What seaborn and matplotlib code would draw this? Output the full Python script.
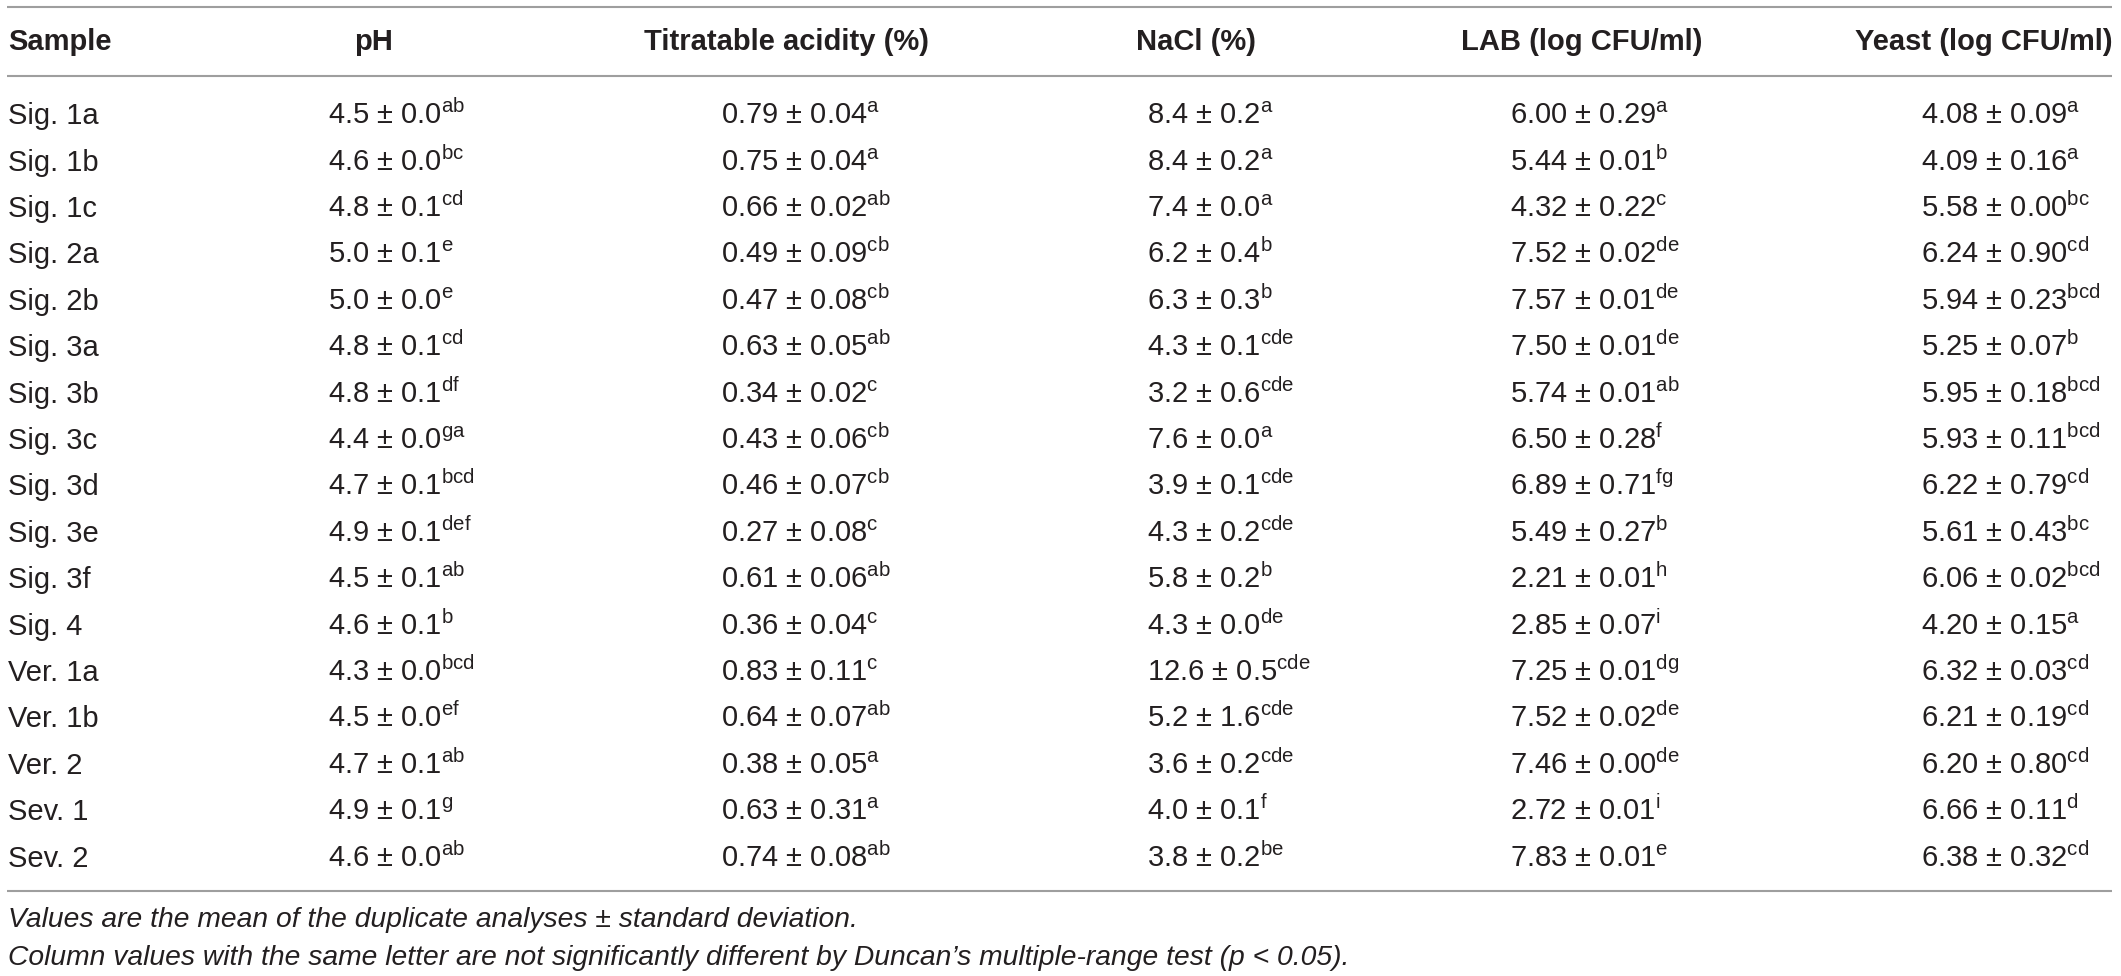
import matplotlib
matplotlib.use("Agg")
import matplotlib.pyplot as plt
import seaborn as sns

# table contents
samples = ["Sig. 1a", "Sig. 1b", "Sig. 1c", "Sig. 2a", "Sig. 2b", "Sig. 3a", "Sig. 3b",
           "Sig. 3c", "Sig. 3d", "Sig. 3e", "Sig. 3f", "Sig. 4", "Ver. 1a", "Ver. 1b",
           "Ver. 2", "Sev. 1", "Sev. 2"]
headers = ["Sample", "pH", "Titratable acidity (%)", "NaCl (%)", "LAB (log CFU/ml)", "Yeast (log CFU/ml)"]

ph_mean = [4.5, 4.6, 4.8, 5.0, 5.0, 4.8, 4.8, 4.4, 4.7, 4.9, 4.5, 4.6, 4.3, 4.5, 4.7, 4.9, 4.6]
ph_sd = [0.0, 0.0, 0.1, 0.1, 0.0, 0.1, 0.1, 0.0, 0.1, 0.1, 0.1, 0.1, 0.0, 0.0, 0.1, 0.1, 0.0]
ph_grp = ["ab", "bc", "cd", "e", "e", "cd", "df", "ga", "bcd", "def", "ab", "b", "bcd", "ef", "ab", "g", "ab"]

ta_mean = [0.79, 0.75, 0.66, 0.49, 0.47, 0.63, 0.34, 0.43, 0.46, 0.27, 0.61, 0.36, 0.83, 0.64, 0.38, 0.63, 0.74]
ta_sd = [0.04, 0.04, 0.02, 0.09, 0.08, 0.05, 0.02, 0.06, 0.07, 0.08, 0.06, 0.04, 0.11, 0.07, 0.05, 0.31, 0.08]
ta_grp = ["a", "a", "ab", "cb", "cb", "ab", "c", "cb", "cb", "c", "ab", "c", "c", "ab", "a", "a", "ab"]

nacl_mean = [8.4, 8.4, 7.4, 6.2, 6.3, 4.3, 3.2, 7.6, 3.9, 4.3, 5.8, 4.3, 12.6, 5.2, 3.6, 4.0, 3.8]
nacl_sd = [0.2, 0.2, 0.0, 0.4, 0.3, 0.1, 0.6, 0.0, 0.1, 0.2, 0.2, 0.0, 0.5, 1.6, 0.2, 0.1, 0.2]
nacl_grp = ["a", "a", "a", "b", "b", "cde", "cde", "a", "cde", "cde", "b", "de", "cde", "cde", "cde", "f", "be"]

lab_mean = [6.00, 5.44, 4.32, 7.52, 7.57, 7.50, 5.74, 6.50, 6.89, 5.49, 2.21, 2.85, 7.25, 7.52, 7.46, 2.72, 7.83]
lab_sd = [0.29, 0.01, 0.22, 0.02, 0.01, 0.01, 0.01, 0.28, 0.71, 0.27, 0.01, 0.07, 0.01, 0.02, 0.00, 0.01, 0.01]
lab_grp = ["a", "b", "c", "de", "de", "de", "ab", "f", "fg", "b", "h", "i", "dg", "de", "de", "i", "e"]

yeast_mean = [4.08, 4.09, 5.58, 6.24, 5.94, 5.25, 5.95, 5.93, 6.22, 5.61, 6.06, 4.20, 6.32, 6.21, 6.20, 6.66, 6.38]
yeast_sd = [0.09, 0.16, 0.00, 0.90, 0.23, 0.07, 0.18, 0.11, 0.79, 0.43, 0.02, 0.15, 0.03, 0.19, 0.80, 0.11, 0.32]
yeast_grp = ["a", "a", "bc", "cd", "bcd", "b", "bcd", "bcd", "cd", "bc", "bcd", "a", "cd", "cd", "cd", "d", "cd"]

notes = ["Values are the mean of the duplicate analyses \u00b1 standard deviation.",
         "Column values with the same letter are not significantly different by Duncan\u2019s multiple-range test (p < 0.05)."]

sns.set_theme(style="white")
plt.rcParams["font.family"] = ["Liberation Sans", "DejaVu Sans"]
plt.rcParams["mathtext.fontset"] = "custom"
plt.rcParams["mathtext.rm"] = "Liberation Sans"

ink = "#231f20"
rule = "#9e9e9e"

fig = plt.figure(figsize=(21.21, 9.76), dpi=100)
ax = fig.add_axes([0, 0, 1, 1])
# y axis in row units: row i sits at pixel 113 + 46.4 * i
ax.set_xlim(0, 2121)
ax.set_ylim((976 - 113) / 46.4, -113 / 46.4)
ax.axis("off")

# horizontal rules
for yy in [-2.29, -0.80, 16.77]:
    ax.plot([7, 2112], [yy, yy], color=rule, lw=1.5, solid_capstyle="butt")

# header row
ax.text(8, -1.36, headers[0], ha="left", va="baseline", fontsize=21, fontweight="bold", color=ink)
head_x = [374, 787, 1196, 1582, 1984]
for hx, h in zip(head_x, headers[1:]):
    ax.text(hx, -1.36, h, ha="center", va="baseline", fontsize=21, fontweight="bold", color=ink)

# body
cols = [(ph_mean, ph_sd, ph_grp, 1), (ta_mean, ta_sd, ta_grp, 2), (nacl_mean, nacl_sd, nacl_grp, 1),
        (lab_mean, lab_sd, lab_grp, 2), (yeast_mean, yeast_sd, yeast_grp, 2)]
col_x = [328, 721, 1147, 1510, 1921]
base = 0.24
for i, s in enumerate(samples):
    ax.text(8, i + base, s, ha="left", va="baseline", fontsize=21, color=ink)
    for cx, (m, sd, g, nd) in zip(col_x, cols):
        txt = f"{m[i]:.{nd}f} \u00b1 {sd[i]:.{nd}f}" + r"$^{\mathregular{" + g[i] + "}}$"
        ax.text(cx, i + base, txt, ha="left", va="baseline", fontsize=21, color=ink)

# footnotes
ax.text(8, 17.54, notes[0], ha="left", va="baseline", fontsize=20.3, style="italic", color=ink)
ax.text(8, 18.36, notes[1], ha="left", va="baseline", fontsize=20.3, style="italic", color=ink)

fig.savefig("out.png", dpi=100, facecolor="white")
